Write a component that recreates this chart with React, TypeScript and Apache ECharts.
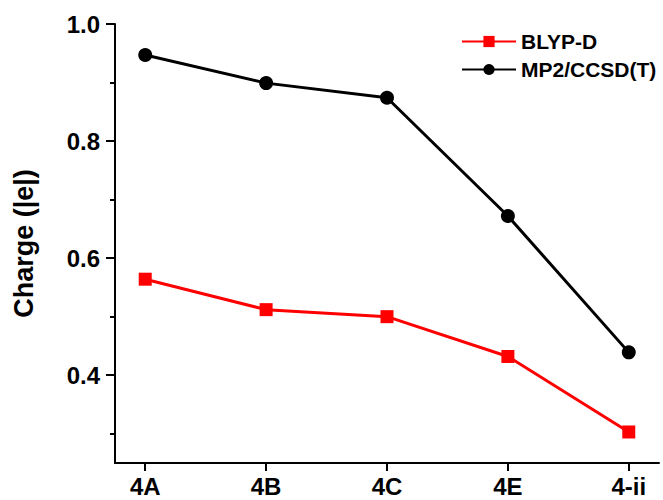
import React, { useEffect, useRef } from "react";
import * as echarts from "echarts";

const categories = ["4A", "4B", "4C", "4E", "4-ii"];
const blypD = [0.564, 0.512, 0.5, 0.432, 0.303];
const mp2 = [0.947, 0.899, 0.874, 0.672, 0.439];
const yMajorTicks = [0.4, 0.6, 0.8, 1.0];
const yMinorTicks = [0.3, 0.5, 0.7, 0.9];

const FONT = "'Liberation Sans', Arial, sans-serif";

export default function App() {
  const ref = useRef<HTMLDivElement>(null);
  useEffect(() => {
    if (!ref.current) return;
    const chart = echarts.init(ref.current, null, { renderer: "svg" });
    const idx = categories.map((_, i) => i);
    chart.setOption({
      animation: false,
      backgroundColor: "#ffffff",
      textStyle: { fontFamily: FONT },
      grid: { left: 115, top: 24, right: 4, bottom: 37, containLabel: false, outerBoundsMode: "none" },
      legend: {
        orient: "vertical",
        left: 456,
        top: 26,
        itemWidth: 54,
        itemHeight: 14,
        itemGap: 7,
        textStyle: { fontFamily: FONT, fontWeight: "bold", fontSize: 21, color: "#000" },
        data: ["BLYP-D", "MP2/CCSD(T)"],
      },
      xAxis: {
        type: "value",
        min: -0.25,
        max: 4.25,
        splitLine: { show: false },
        axisLine: { show: true, onZero: false, lineStyle: { color: "#000", width: 2 } },
        axisTick: {
          show: true,
          customValues: idx,
          length: 8,
          lineStyle: { color: "#000", width: 2 },
        },
        axisLabel: {
          customValues: idx,
          formatter: (v: number) => categories[Math.round(v)] ?? "",
          fontFamily: FONT,
          fontWeight: "bold",
          fontSize: 24,
          color: "#000",
          margin: 11,
        },
      },
      yAxis: [
        {
          type: "value",
          min: 0.25,
          max: 1.0,
          name: "Charge (|e|)",
          nameLocation: "middle",
          nameGap: 78,
          nameTextStyle: { fontFamily: FONT, fontWeight: "bold", fontSize: 27, color: "#000" },
          splitLine: { show: false },
          axisLine: { show: true, onZero: false, lineStyle: { color: "#000", width: 2 } },
          axisTick: {
            show: true,
            customValues: yMajorTicks,
            length: 9,
            lineStyle: { color: "#000", width: 2 },
          },
          axisLabel: {
            customValues: yMajorTicks,
            formatter: (v: number) => v.toFixed(1),
            fontFamily: FONT,
            fontWeight: "bold",
            fontSize: 24,
            color: "#000",
            margin: 15,
          },
        },
        {
          type: "value",
          min: 0.25,
          max: 1.0,
          position: "left",
          splitLine: { show: false },
          axisLine: { show: false, onZero: false },
          axisTick: {
            show: true,
            customValues: yMinorTicks,
            length: 5,
            lineStyle: { color: "#000", width: 2 },
          },
          axisLabel: { show: false },
        },
      ],
      series: [
        {
          name: "BLYP-D",
          type: "line",
          data: blypD.map((v, i) => [i, v]),
          symbol: "rect",
          symbolSize: 13,
          lineStyle: { color: "#ff0000", width: 3 },
          itemStyle: { color: "#ff0000" },
          z: 3,
        },
        {
          name: "MP2/CCSD(T)",
          type: "line",
          data: mp2.map((v, i) => [i, v]),
          symbol: "circle",
          symbolSize: 14,
          lineStyle: { color: "#000000", width: 3 },
          itemStyle: { color: "#000000" },
          z: 3,
        },
      ],
    });
    return () => chart.dispose();
  }, []);
  return <div ref={ref} style={{ width: 663, height: 500, position: "absolute", left: 0, top: 0 }} />;
}
